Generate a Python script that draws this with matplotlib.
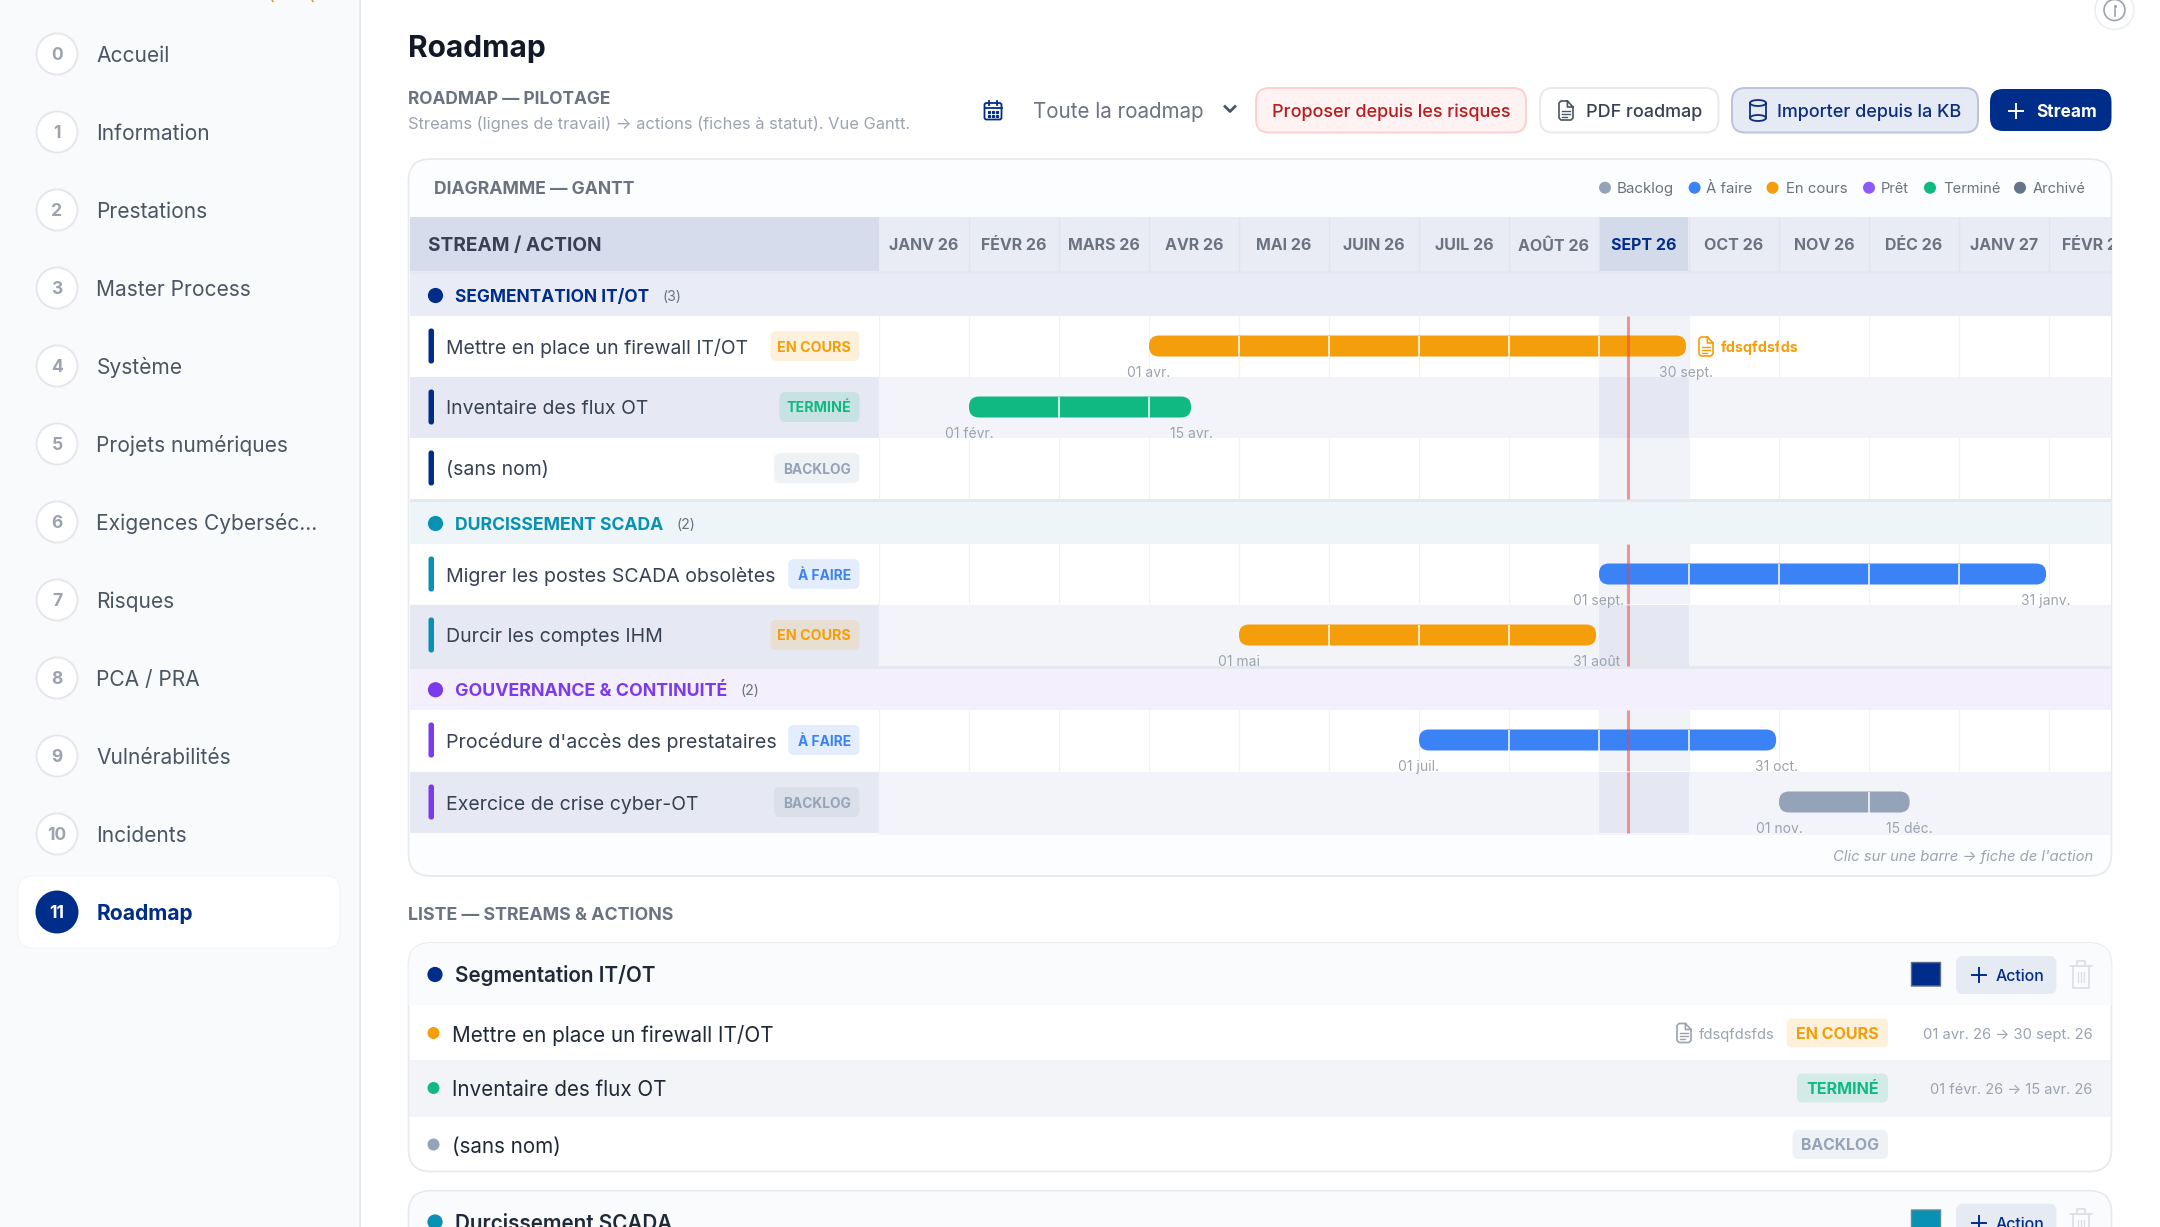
import calendar
import matplotlib
matplotlib.use('Agg')
import matplotlib.pyplot as plt
from matplotlib.patches import FancyBboxPatch, Rectangle, Ellipse

plt.rcParams['font.family'] = ['Inter', 'DejaVu Sans']

# --- data
nav_items = ['Accueil', 'Information', 'Prestations', 'Master Process', 'Système', 'Projets numériques',
             'Exigences Cyberséc...', 'Risques', 'PCA / PRA', 'Vulnérabilités', 'Incidents', 'Roadmap']
month_labels = ['JANV 26', 'FÉVR 26', 'MARS 26', 'AVR 26', 'MAI 26', 'JUIN 26', 'JUIL 26', 'AOÛT 26',
                'SEPT 26', 'OCT 26', 'NOV 26', 'DÉC 26', 'JANV 27', 'FÉVR 27']
status_names = ['Backlog', 'À faire', 'En cours', 'Prêt', 'Terminé', 'Archivé']
status_colors = ['#94a3b8', '#3b82f6', '#f59e0b', '#8b5cf6', '#10b981', '#64748b']
stream_names = ['SEGMENTATION IT/OT', 'DURCISSEMENT SCADA', 'GOUVERNANCE & CONTINUITÉ']
stream_counts = [3, 2, 2]
stream_colors = ['#002d8a', '#0891b2', '#7c3aed']
action_names = ['Mettre en place un firewall IT/OT', 'Inventaire des flux OT', '(sans nom)',
                'Migrer les postes SCADA obsolètes', 'Durcir les comptes IHM',
                "Procédure d'accès des prestataires", 'Exercice de crise cyber-OT']
action_streams = [0, 0, 0, 1, 1, 2, 2]
action_status = ['En cours', 'Terminé', 'Backlog', 'À faire', 'En cours', 'À faire', 'Backlog']
action_starts = [(2026, 4, 1), (2026, 2, 1), None, (2026, 9, 1), (2026, 5, 1), (2026, 7, 1), (2026, 11, 1)]
action_ends = [(2026, 9, 30), (2026, 4, 15), None, (2027, 1, 31), (2026, 8, 31), (2026, 10, 31), (2026, 12, 15)]
start_labels = ['01 avr.', '01 févr.', None, '01 sept.', '01 mai', '01 juil.', '01 nov.']
end_labels = ['30 sept.', '15 avr.', None, '31 janv.', '31 août', '31 oct.', '15 déc.']
today = (2026, 9, 10.7)
list_dates = ['01 avr. 26 → 30 sept. 26', '01 févr. 26 → 15 avr. 26', None]

# --- canvas, pixel coordinates
fig = plt.figure(figsize=(21.6, 12.27), dpi=100, facecolor='white')
ax = fig.add_axes([0, 0, 1, 1])
ax.set_xlim(0, 2160)
ax.set_ylim(1227, 0)
ax.axis('off')
# timeline axes: x in months since janv. 26
ax_g = fig.add_axes([879 / 2160, 0, (2112 - 879) / 2160, 1])
ax_g.set_xlim(0, 13.7)
ax_g.set_ylim(1227, 0)
ax_g.axis('off')
renderer = fig.canvas.get_renderer()

NAVY = '#002d8a'
CARD_EDGE = '#e7e9ed'


def month_pos(date):
    y, m, d = date
    return (y - 2026) * 12 + m - 1 + (d - 1) / calendar.monthrange(y, m)[1]


def put(x, y, s, size=12.0, color='#374151', weight='normal', ha='left', end=None, style='normal', a=None):
    a = a or ax
    t = a.text(x, y, s, fontsize=size, color=color, fontweight=weight, ha=ha, va='center_baseline',
               fontstyle=style, zorder=8)
    if end is not None:
        t.set_fontsize(size * (end - x) / t.get_window_extent(renderer).width)
    return t


def rrect(x0, y0, x1, y1, r, fc, ec='none', lw=0.0, z=2, alpha=None, a=None):
    p = FancyBboxPatch((x0, y0), x1 - x0, y1 - y0, boxstyle='round,pad=0,rounding_size=%s' % r,
                       fc=fc, ec=ec, lw=lw, zorder=z, alpha=alpha, transform=ax.transData)
    (a or ax).add_patch(p)
    return p


def rect(x0, y0, x1, y1, fc, z=1, clip=None):
    p = Rectangle((x0, y0), x1 - x0, y1 - y0, fc=fc, ec='none', zorder=z)
    ax.add_patch(p)
    if clip is not None:
        p.set_clip_path(clip)
    return p


def dot(x, y, r, fc, ec='none', lw=0.0, z=6):
    ax.add_patch(Ellipse((x, y), 2 * r, 2 * r, fc=fc, ec=ec, lw=lw, zorder=z))


def doc_icon(x, y, color, w=14, h=19):
    x0, y0 = x - w / 2, y - h / 2
    ax.plot([x0 + w * 0.6, x0 + 2, x0, x0, x0 + 2, x0 + w - 2, x0 + w, x0 + w, x0 + w * 0.6, x0 + w * 0.6, x0 + w],
            [y0, y0, y0 + 2, y0 + h - 2, y0 + h, y0 + h, y0 + h - 2, y0 + 6, y0, y0 + 6, y0 + 6],
            color=color, lw=1.2, zorder=7, solid_joinstyle='round')
    for dy, dw in ((0, 0.6), (3, 0.6), (6, 0.35)):
        ax.plot([x0 + 3, x0 + 3 + w * dw], [y + dy, y + dy], color=color, lw=1.0, zorder=7)


def plus(x, y, s, color, lw=1.4):
    ax.plot([x - s, x + s], [y, y], color=color, lw=lw, zorder=7)
    ax.plot([x, x], [y - s, y + s], color=color, lw=lw, zorder=7)


def trash(x, y, color='#dadde2'):
    ax.plot([x - 8, x - 8, x + 8, x + 8], [y - 9, y + 13, y + 13, y - 9], color=color, lw=1.2, zorder=7)
    ax.plot([x - 11, x + 11], [y - 9, y - 9], color=color, lw=1.2, zorder=7)
    ax.plot([x - 4, x - 4, x + 4, x + 4], [y - 9, y - 14, y - 14, y - 9], color=color, lw=1.2, zorder=7)
    for dx in (-3, 0, 3):
        ax.plot([x + dx, x + dx], [y - 3, y + 7], color=color, lw=0.9, zorder=7)


# --- sidebar
rect(0, 0, 359, 1227, '#f8fafc')
ax.plot([359.5, 359.5], [0, 1227], color='#e8eaee', lw=1.4, zorder=2)
for dx in (272, 312):
    ax.plot([dx, dx + 1], [0, 1.5], color='#d9902a', lw=1.0, zorder=3)
rrect(18, 876, 340, 948, 14, 'white', ec='#f3f4f6', lw=0.8, z=3)
for i, name in enumerate(nav_items):
    y = 54 + 78 * i
    active = i == 11
    dot(57, y, 20.5, NAVY if active else 'white', ec=NAVY if active else '#e5e7eb', lw=1.4)
    put(57, y, str(i), 12.6, 'white' if active else '#9ca3af', 'bold', ha='center')
    put(96.5, y, name, 15.1, NAVY if active else '#4b5563', 'bold' if active else 'normal')

# --- page head
put(408, 46, 'Roadmap', 22, '#111827', 'bold', end=546)
put(408, 97.5, 'ROADMAP — PILOTAGE', 11, '#6b7280', 'bold', end=611)
put(408, 123, 'Streams (lignes de travail) → actions (fiches à statut). Vue Gantt.', 11, '#9ca3af', end=909)

# calendar picker
rrect(984.5, 103, 1001.5, 119.5, 2, 'none', ec=NAVY, lw=1.3, z=6)
ax.plot([984.5, 1001.5], [108, 108], color=NAVY, lw=1.3, zorder=6)
for dx in (989, 997):
    ax.plot([dx, dx], [100.5, 105], color=NAVY, lw=1.3, zorder=6)
for dx in (989, 993, 997):
    for dy in (112, 116):
        ax.plot([dx], [dy], 's', ms=1.3, color=NAVY, zorder=6)
put(1032.7, 110.5, 'Toute la roadmap', 15, '#6b7280', end=1204)
ax.plot([1225, 1230, 1235], [106.5, 111.5, 106.5], color='#4b5563', lw=2.0, zorder=6)

# buttons
rrect(1256, 88, 1526, 132.5, 13, '#fef2f2', ec='#fbd0d0', lw=1.4)
put(1272.5, 110.5, 'Proposer depuis les risques', 14, '#b91c1c', 'medium', end=1511)
rrect(1540, 88, 1718.5, 132.5, 13, 'white', ec=CARD_EDGE, lw=1.4)
doc_icon(1566, 110.5, '#4b5563')
put(1586, 110.5, 'PDF roadmap', 14, '#374151', 'medium', end=1702)
rrect(1732, 88, 1978, 132.5, 13, '#e6eaf5', ec='#b9c3da', lw=1.4)
ax.add_patch(Ellipse((1758, 103), 16, 6, fc='none', ec='#0b2e80', lw=1.3, zorder=6))
ax.plot([1750, 1750], [103, 118], color='#0b2e80', lw=1.3, zorder=6)
ax.plot([1766, 1766], [103, 118], color='#0b2e80', lw=1.3, zorder=6)
ax.add_patch(Ellipse((1758, 118), 16, 6, fc='none', ec='#0b2e80', lw=1.3, zorder=6))
put(1777, 110.5, 'Importer depuis la KB', 14, '#0b2e80', 'medium', end=1961.5)
rrect(1990, 89, 2111.5, 131, 13, NAVY)
plus(2016, 110.5, 7, 'white')
put(2036, 110.5, 'Stream', 14, 'white', 'bold', end=2096.7)

# info button, cut by the top of the page
dot(2114.5, 10, 19.5, 'white', ec='#eceef1', lw=1.2)
dot(2114.5, 10, 10.5, 'none', ec='#9ca3af', lw=1.2, z=7)
ax.plot([2114.5, 2114.5], [9, 15.5], color='#9ca3af', lw=1.2, zorder=7)
ax.plot([2114.5], [5.5], '.', ms=2.5, color='#9ca3af', zorder=7)

# --- gantt card
gantt_card = rrect(408.5, 159, 2111.5, 876, 22, '#fcfdfe', ec=CARD_EDGE, lw=1.2, z=1)
put(433.7, 187, 'DIAGRAMME — GANTT', 11, '#6b7280', 'bold', end=634.6)

legend_dots = [1605, 1694.6, 1772.5, 1869, 1930, 2020]
legend_text = [(1617, 1674), (1706, 1752), (1785.6, 1847), (1880.7, 1909), (1943, 2000), (2033, 2086)]
for name, c, dx, (x0, x1) in zip(status_names, status_colors, legend_dots, legend_text):
    dot(dx, 187.7, 6, c)
    put(x0, 187.7, name, 11, '#6b7280', end=x1)

# header band
rect(410, 217, 2111, 271, '#e9ecf5', z=2)
rect(410, 217, 879, 271, '#d6dceb', z=3)
rect(410, 271, 2111, 274, '#e6e8ef', z=2)
rect(1599, 217, 1688, 271, '#d3daea', z=3)
put(428.5, 244, 'STREAM / ACTION', 13, '#374151', 'bold', end=602)
ax_g.vlines(range(1, 14), 217, 271, color='#e0e4ee', lw=0.9, zorder=4)
clip_right = Rectangle((400, 200), 1711.5, 100, transform=ax.transData)
for i, lab in enumerate(month_labels):
    t = put(i + 0.5, 244.5, lab, 11.5, NAVY if i == 8 else '#6b7280', 'bold', ha='center', a=ax_g)
    t.set_clip_on(True)
    t.set_clip_path(clip_right)

# stream group bands
group_tops = [274, 502, 668.5]
group_bottoms = [316, 544, 710]
group_fills = ['#e9ecf6', '#edf5f9', '#f3effc']
group_name_ends = [649, 663, 726]
for k, name in enumerate(stream_names):
    y0, y1 = group_tops[k], group_bottoms[k]
    rect(410, y0, 2111, y1, group_fills[k], z=2)
    yc = (y0 + y1) / 2 + 0.5
    dot(435.5, yc, 7.6, stream_colors[k])
    put(454.7, yc, name, 11.5, stream_colors[k], 'bold', end=group_name_ends[k])
    put(group_name_ends[k] + 14, yc, '(%d)' % stream_counts[k], 10.5, '#6b7280', end=group_name_ends[k] + 33)

# action rows
row_tops = [316, 377, 438, 544, 605, 710, 772]
row_bottoms = [376.5, 437.5, 499, 604, 665.5, 771, 832.5]
name_ends = [748, 648.6, 548.5, 775.4, 663, 776.6, 698.5]
badge_w = {'En cours': (89, 73.4), 'Terminé': (80, 64), 'Backlog': (85.4, 68), 'À faire': (71.4, 53)}
status_color = dict(zip(status_names, status_colors))
today_x = month_pos(today)

for y0, y1 in ((499, 502), (665.5, 668.5)):
    rect(410, y0, 2111, y1, '#e6e8ef', z=2)

for i, name in enumerate(action_names):
    y0, y1 = row_tops[i], row_bottoms[i]
    yc = y0 + 30
    zebra = i in (1, 4, 6)
    if zebra:
        rect(410, y0, 879, y1, '#e6e9f3', z=2)
        rect(879, y0, 2111, y1 + (2.5 if i == 6 else 0), '#f3f4f9', z=2)
    else:
        rect(410, y0, 2111, y1, 'white', z=2)
        ax_g.vlines(range(0, 14), y0, y1, color='#f0f1f4', lw=0.9, zorder=2)
    ax_g.add_patch(Rectangle((8, y0), 1, y1 - y0, fc='#e5e8f3' if zebra else '#f1f3f8', ec='none', zorder=2.5))
    rrect(428.5, yc - 17.5, 434, yc + 17.5, 2.5, stream_colors[action_streams[i]], z=5)
    put(445.8, yc + 0.5, name, 15, '#374151', end=name_ends[i])

    st = action_status[i]
    w, tw = badge_w[st]
    c = status_color[st]
    rrect(859.5 - w, yc - 15, 859.5, yc + 15, 6, c, alpha=0.14, z=5)
    put(850.8 - tw, yc, st.upper(), 10, c, 'bold', end=850.8)

    if action_starts[i] is not None:
        x0 = month_pos(action_starts[i])
        x1 = month_pos(action_ends[i])
        px0 = ax_g.transData.transform((x0, 0))[0]
        px1 = ax_g.transData.transform((x1, 0))[0]
        rrect(px0, yc - 10.5, px1, yc + 10.5, 10, c, z=4, a=ax_g)
        inner = [m for m in range(14) if x0 + 0.02 < m < x1 - 0.02]
        ax_g.vlines(inner, yc - 10.5, yc + 10.5, color='white', lw=1.1, zorder=4.5)
        put(x0, yc + 25.5, start_labels[i], 10, '#9ca3af', ha='center', a=ax_g)
        put(x1, yc + 25.5, end_labels[i], 10, '#9ca3af', ha='center', a=ax_g)
    ax_g.vlines(today_x, y0, y1, color='#ef4444', lw=2.2, alpha=0.55, zorder=5)

doc_icon(1706, 346.5, '#f59e0b')
put(1721, 346.5, 'fdsqfdsfds', 11, '#f59e0b', 'bold', end=1799)
put(1833, 856, "Clic sur une barre → fiche de l'action", 11, '#9ca3af', style='italic', end=2093)

# --- list section
put(408, 913, 'LISTE — STREAMS & ACTIONS', 11, '#6b7280', 'bold', end=673)

card_1 = rrect(408.5, 943, 2111.5, 1171.5, 22, 'white', ec=CARD_EDGE, lw=1.2, z=1)
rect(408, 943, 2112, 1005, '#fafbfd', z=1.5, clip=card_1)
rect(409, 1060, 2111, 1117, '#f3f4f8', z=1.5)
dot(435, 974.5, 7.6, stream_colors[0])
put(455, 974, 'Segmentation IT/OT', 15, '#1f2937', 'semibold', end=656)
rrect(1911.5, 962.5, 1940.5, 986, 0.1, stream_colors[0], ec='#5b6b8c', lw=1.0, z=5)
rrect(1956, 956, 2056.4, 994, 7, '#e6eaf3', z=4)
plus(1978.5, 975, 7, NAVY)
put(1995.5, 975, 'Action', 13, NAVY, 'medium', end=2044.4)
trash(2080.6, 975)

list_y = [1033, 1088, 1144.5]
list_name_ends = [774, 667, 561]
list_badges = {'En cours': (101.4, 83), 'Terminé': (91, 72.5), 'Backlog': (95.4, 78.4)}
for i in range(3):
    y = list_y[i]
    st = action_status[i]
    c = status_color[st]
    dot(433.5, y, 6, c)
    put(451.7, y, action_names[i], 15, '#1f2937', end=list_name_ends[i])
    w, tw = list_badges[st]
    rrect(1888 - w, y - 14.5, 1888, y + 14.5, 6, c, alpha=0.14, z=5)
    put(1879 - tw, y, st.upper(), 11, c, 'bold', end=1879)
list_date_starts = [1922.6, 1929.7]
for y, s, x0 in zip(list_y, list_dates[:2], list_date_starts):
    put(x0, y, s, 11, '#9ca3af', end=2092.6)
doc_icon(1684, 1033, '#9ca3af')
put(1699, 1033, 'fdsqfdsfds', 11, '#9ca3af', end=1774)

card_2 = rrect(408.5, 1190.7, 2111.5, 1300, 22, '#fafbfd', ec=CARD_EDGE, lw=1.2, z=1)
dot(435, 1222, 7.6, stream_colors[1])
put(455, 1221.5, 'Durcissement SCADA', 15, '#1f2937', 'semibold', end=672.7)
rrect(1911.5, 1210, 1940.5, 1234, 0.1, stream_colors[1], ec='#5b8c9c', lw=1.0, z=5)
rrect(1956, 1203.7, 2056.4, 1241, 7, '#e6eaf3', z=4)
plus(1978.5, 1222.7, 7, NAVY)
put(1995.5, 1222.7, 'Action', 13, NAVY, 'medium', end=2044.4)
trash(2080.6, 1222.7)

fig.savefig('out.png', dpi=100, facecolor='white')
